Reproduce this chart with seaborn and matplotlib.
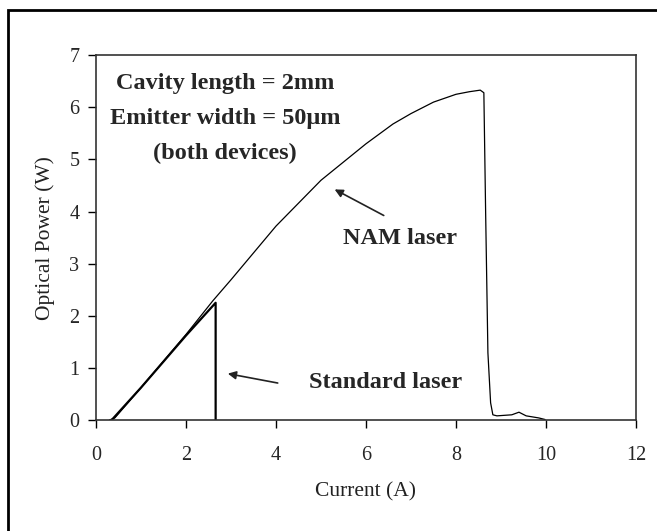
import numpy as np
import pandas as pd
import matplotlib
matplotlib.use("Agg")
import matplotlib.pyplot as plt
import seaborn as sns

# L-I curves (current in A, optical power in W)
nam_current = [0.30, 0.42, 1.00, 2.00, 2.60, 3.00, 4.00, 5.00, 6.00, 6.60,
               7.00, 7.50, 8.00, 8.30, 8.54, 8.62, 8.66, 8.71, 8.77, 8.82,
               8.91, 9.24, 9.40, 9.56, 9.84, 9.98]
nam_power = [0.00, 0.04, 0.62, 1.64, 2.29, 2.69, 3.72, 4.60, 5.30, 5.68,
             5.88, 6.10, 6.25, 6.30, 6.33, 6.28, 3.95, 1.29, 0.33, 0.10,
             0.08, 0.10, 0.15, 0.08, 0.04, 0.01]

std_current = [0.35, 1.00, 2.00, 2.66, 2.66]
std_power = [0.00, 0.62, 1.62, 2.25, 0.00]

x_ticks = [0, 2, 4, 6, 8, 10, 12]
y_ticks = [0, 1, 2, 3, 4, 5, 6, 7]

nam = pd.DataFrame({"current": nam_current, "power": nam_power})
std = pd.DataFrame({"current": std_current, "power": std_power})

sns.set_theme(style="white")
plt.rcParams["font.family"] = ["Liberation Serif", "DejaVu Serif"]

fig = plt.figure(figsize=(6.57, 5.31), dpi=100)
ax = fig.add_axes([0.146, 0.209, 0.822, 0.687])

sns.lineplot(data=nam, x="current", y="power", ax=ax, color="black",
             linewidth=0.9, sort=False, estimator=None)
sns.lineplot(data=std, x="current", y="power", ax=ax, color="black",
             linewidth=1.6, sort=False, estimator=None)

ax.set_xlim(0, 12)
ax.set_ylim(0, 7)
ax.set_xticks(x_ticks)
ax.set_yticks(y_ticks)
ax.tick_params(axis="both", direction="out", length=6, width=1, color="black",
               labelsize=14.5, pad=13, bottom=True, left=True)
ax.tick_params(axis="y", pad=6)
for s in ax.spines.values():
    s.set_color("#333333")
    s.set_linewidth(1.2)

ax.set_xlabel("Current (A)", fontsize=15.5, labelpad=12, color="#222222")
ax.set_ylabel("Optical Power (W)", fontsize=15.5, labelpad=10, color="#222222")

bold = dict(fontsize=17.5, fontweight="bold", ha="center", va="center")
ax.text(2.87, 6.45, "Cavity length = 2mm", **bold)
ax.text(2.87, 5.79, "Emitter width = 50\u03bcm", **bold)
ax.text(2.87, 5.12, "(both devices)", **bold)
ax.text(6.75, 3.49, "NAM laser", **bold)
ax.text(6.43, 0.72, "Standard laser", **bold)

ax.annotate("", xy=(5.25, 4.45), xytext=(6.45, 3.9),
            arrowprops=dict(arrowstyle="-|>", color="#222222", lw=1.2,
                            mutation_scale=12))
ax.annotate("", xy=(2.87, 0.9), xytext=(4.1, 0.7),
            arrowprops=dict(arrowstyle="-|>", color="#222222", lw=1.2,
                            mutation_scale=12))

# outer frame around the figure
fig.patches.append(plt.Rectangle((8 / 657, -0.05), 1.2, 1 - 10 / 531 + 0.05,
                                 transform=fig.transFigure, fill=False,
                                 edgecolor="black", linewidth=2))

fig.savefig("out.png", dpi=100)
